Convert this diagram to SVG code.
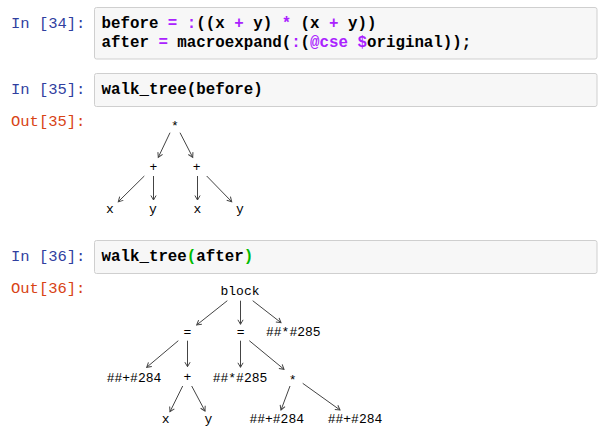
<svg xmlns="http://www.w3.org/2000/svg" width="604" height="437" viewBox="0 0 604 437">
<style>
.bg{fill:#ffffff}
.cell{fill:#f7f7f7;stroke:#cfcfcf;stroke-width:1}
.pin{font-family:"Liberation Mono",monospace;font-size:15.5px;fill:#303F9F}
.pout{font-family:"Liberation Mono",monospace;font-size:15.5px;fill:#D84315}
.code{font-family:"Liberation Mono",monospace;font-size:15.8px;fill:#000000;font-weight:bold}
.op{fill:#AA22FF}
.br{fill:#00BB00}
.t{font-family:"Liberation Mono",monospace;font-size:13px;fill:#000000;text-anchor:middle}
.e{stroke:#444444;stroke-width:1;fill:none;marker-end:url(#ah)}
</style>
<defs>
<marker id="ah" markerUnits="userSpaceOnUse" markerWidth="10" markerHeight="10" refX="0" refY="0" viewBox="-6 -5 8 10" orient="auto">
<path d="M-4.5,-2.6 L0,0 L-4.5,2.6" fill="none" stroke="#444444" stroke-width="1"/>
</marker>
</defs>
<rect class="bg" x="0" y="0" width="604" height="437"/>

<g id="cell34">
<text class="pin" x="11" y="28">In [34]:</text>
<rect class="cell" x="94.5" y="7.5" width="502.5" height="51.5" rx="2"/>
<text class="code" x="101.5" y="28">before <tspan class="op">=</tspan> <tspan class="op">:</tspan>((x <tspan class="op">+</tspan> y) <tspan class="op">*</tspan> (x <tspan class="op">+</tspan> y))</text>
<text class="code" x="101.5" y="46.5">after <tspan class="op">=</tspan> macroexpand(<tspan class="op">:</tspan>(<tspan class="op">@cse</tspan> <tspan class="op">$</tspan>original));</text>
</g>

<g id="cell35">
<text class="pin" x="11" y="94">In [35]:</text>
<rect class="cell" x="94.5" y="73.5" width="502.5" height="33" rx="2"/>
<text class="code" x="101.5" y="94">walk_tree(before)</text>
<text class="pout" x="11" y="126">Out[35]:</text>
</g>

<g id="cell36">
<text class="pin" x="11" y="261">In [36]:</text>
<rect class="cell" x="94.5" y="240.5" width="502.5" height="33" rx="2"/>
<text class="code" x="101.5" y="261">walk_tree<tspan class="br">(</tspan>after<tspan class="br">)</tspan></text>
<text class="pout" x="11" y="293">Out[36]:</text>
</g>

<g id="connectors">
<line class="e" x1="170" y1="132.7" x2="158.3" y2="157.3"/>
<line class="e" x1="180" y1="132.7" x2="192.7" y2="157.3"/>
<line class="e" x1="144.3" y1="176" x2="118.3" y2="201.7"/>
<line class="e" x1="153.5" y1="176" x2="153.5" y2="200"/>
<line class="e" x1="197.5" y1="176" x2="197.5" y2="200"/>
<line class="e" x1="206.7" y1="176" x2="231.7" y2="201.7"/>

<line class="e" x1="227.3" y1="300.7" x2="196.7" y2="325"/>
<line class="e" x1="240.5" y1="300.7" x2="240.5" y2="324.3"/>
<line class="e" x1="252.7" y1="300.7" x2="281" y2="322.7"/>
<line class="e" x1="178.3" y1="340.7" x2="146.7" y2="367.3"/>
<line class="e" x1="187.5" y1="340.7" x2="187.5" y2="366.7"/>
<line class="e" x1="240.5" y1="340.7" x2="240.5" y2="367.3"/>
<line class="e" x1="249.3" y1="340.7" x2="284" y2="369.3"/>
<line class="e" x1="182.7" y1="386" x2="170" y2="411.7"/>
<line class="e" x1="191.7" y1="386" x2="205" y2="411"/>
<line class="e" x1="290" y1="386" x2="281" y2="410"/>
<line class="e" x1="302.7" y1="383.3" x2="340" y2="410"/>
</g>

<g id="t1_root"><text class="t" x="175" y="130">*</text></g>
<g id="t1_plus1"><text class="t" x="153.3" y="171">+</text></g>
<g id="t1_plus2"><text class="t" x="196.7" y="171">+</text></g>
<g id="t1_x1"><text class="t" x="110" y="213">x</text></g>
<g id="t1_y1"><text class="t" x="153" y="213">y</text></g>
<g id="t1_x2"><text class="t" x="197.3" y="213">x</text></g>
<g id="t1_y2"><text class="t" x="240" y="213">y</text></g>

<g id="t2_block"><text class="t" x="240" y="295">block</text></g>
<g id="t2_eq1"><text class="t" x="187.3" y="335.6">=</text></g>
<g id="t2_eq2"><text class="t" x="240.7" y="335.6">=</text></g>
<g id="t2_c285a"><text class="t" x="293.3" y="336">##*#285</text></g>
<g id="t2_p284a"><text class="t" x="134" y="381.5">##+#284</text></g>
<g id="t2_plus"><text class="t" x="187.3" y="381.3">+</text></g>
<g id="t2_c285b"><text class="t" x="240" y="381.5">##*#285</text></g>
<g id="t2_star"><text class="t" x="292.7" y="383.5">*</text></g>
<g id="t2_x"><text class="t" x="165.7" y="423">x</text></g>
<g id="t2_y"><text class="t" x="208.3" y="423">y</text></g>
<g id="t2_p284b"><text class="t" x="276.7" y="423">##+#284</text></g>
<g id="t2_p284c"><text class="t" x="355" y="423">##+#284</text></g>
</svg>
